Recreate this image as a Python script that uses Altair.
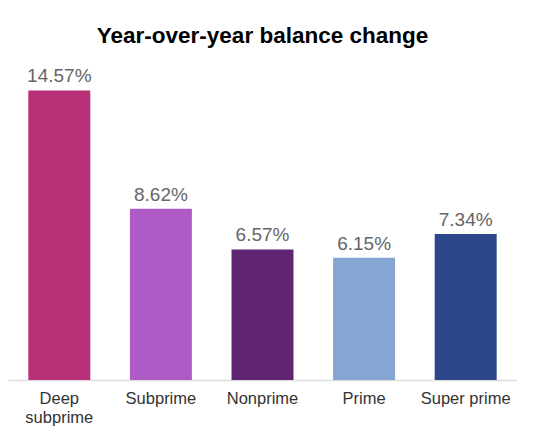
import altair as alt
import pandas as pd

categories = ["Deep subprime", "Subprime", "Nonprime", "Prime", "Super prime"]
values = [14.57, 8.62, 6.57, 6.15, 7.34]
colors = ["#B83077", "#AE5BC8", "#5F2571", "#85A5D3", "#2B468A"]

df = pd.DataFrame({"tier": categories, "change": values, "color": colors})
df["label"] = df["change"].map(lambda v: f"{v:.2f}%")

base = alt.Chart(df).encode(
    x=alt.X(
        "tier:N",
        sort=categories,
        title=None,
        scale=alt.Scale(paddingInner=0.39, paddingOuter=0.2),
        axis=alt.Axis(
            labelAngle=0,
            labelFont="Liberation Sans",
            labelFontSize=16.5,
            labelColor="#333333",
            labelPadding=10,
            labelLineHeight=19,
            labelExpr="datum.value == 'Deep subprime' ? ['Deep', 'subprime'] : datum.value",
            ticks=False,
            domainColor="#dddddd",
            domainWidth=1.5,
        ),
    ),
    y=alt.Y("change:Q", axis=None, scale=alt.Scale(domain=[0, 16], nice=False)),
)

bars = base.mark_bar().encode(color=alt.Color("color:N", scale=None))

text = base.mark_text(
    baseline="bottom",
    dy=-4,
    font="Liberation Sans",
    fontSize=19,
    color="#666666",
).encode(text="label:N")

chart = (
    (bars + text)
    .properties(
        width=509,
        height=318,
        title=alt.TitleParams(
            "Year-over-year balance change",
            font="Liberation Sans",
            fontSize=22.5,
            fontWeight="bold",
            color="#000000",
            anchor="middle",
            offset=15,
        ),
        autosize=alt.AutoSizeParams(type="none"),
        padding={"left": 0, "top": 54, "right": 0, "bottom": 50},
    )
    .configure_view(stroke=None)
)

chart.save("out.html", embed_options={"renderer": "svg", "actions": False})
